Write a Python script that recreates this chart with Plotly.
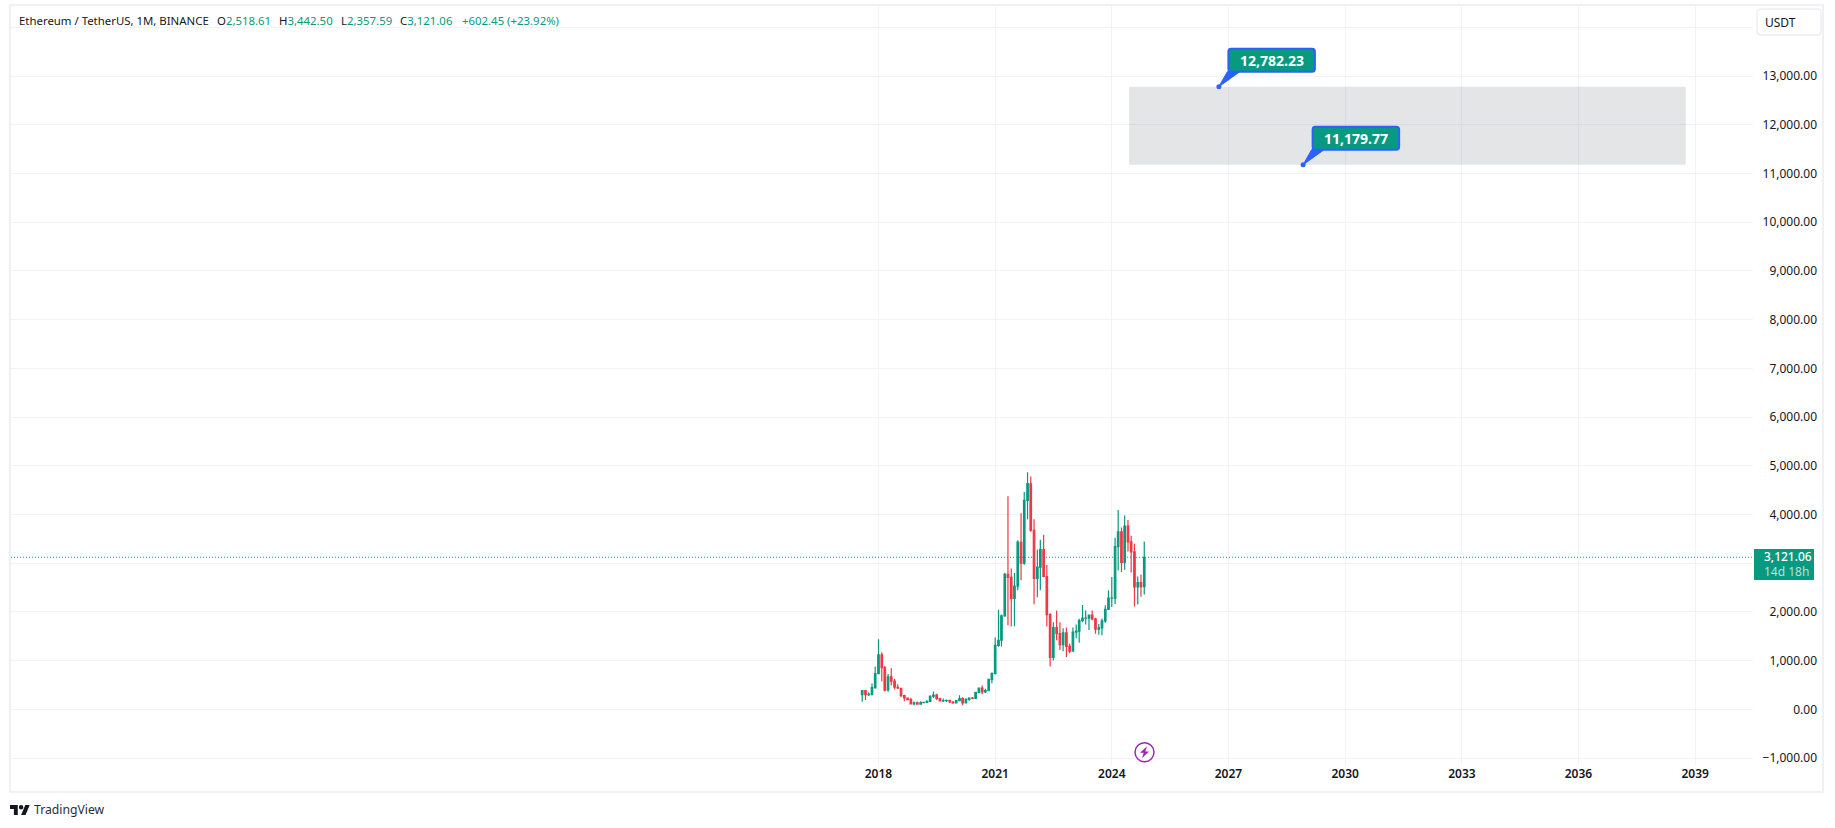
import plotly.graph_objects as go
import pandas as pd

months = [d.strftime("%Y-%m-%d") for d in pd.date_range("2017-08-01", "2024-11-01", freq="MS")]
opens = [301,383,303,305,445,733,1117,853,397,669,578,453,433,283,232,197,113,133,107,136,141,162,268,290,218,172,180,183,151,130,180,218,132,206,231,226,346,434,359,386,616,737,
1312,1418,1918,2772,2707,2275,2530,3430,3000,4288,4630,3676,2688,2919,3281,2726,1942,1067,1678,1554,1328,1572,1294,1196,1585,1605,1821,1870,1873,1933,1856,1645,1671,1815,2052,2282,2283,3340,3645,3014,3760,3436,3232,2513,2603,2518.61]
highs = [393,395,349,531,881,1436,1170,890,725,841,625,515,435,300,234,238,160,160,165,150,187,288,364,320,239,223,199,190,153,187,288,250,227,246,253,349,446,488,420,622,758,1475,
2042,1947,2800,4372,2891,2800,3471,4027,4460,4868,4778,3900,3283,3481,3582,2965,1972,1785,2030,1789,1663,1680,1352,1680,1743,1857,2142,2029,1930,2029,1880,1750,1865,2136,2445,2717,3522,4093,3730,3977,3887,3562,3400,2728,2770,3442.50]
lows = [155,191,271,282,422,730,575,368,360,489,406,430,250,167,190,101,81,100,101,130,130,150,230,190,160,150,150,130,116,125,180,86,125,176,215,222,335,308,333,373,533,714,
1285,1290,1900,1728,1700,1706,2442,2652,2970,3900,3643,2159,2300,2445,2711,1703,880,1000,1420,1220,1190,1074,1150,1190,1460,1368,1785,1740,1626,1826,1550,1531,1520,1778,2043,2100,2160,2850,2817,2865,3240,2810,2110,2150,2310,2357.59]
closes = [383,303,305,445,733,1117,855,394,669,577,453,433,283,232,197,113,133,107,136,141,162,268,290,218,172,180,183,151,130,180,218,133,206,231,226,346,434,360,386,616,737,1312,
1418,1918,2772,2706,2275,2531,3432,3001,4288,4631,3676,2688,2919,3281,2726,1942,1067,1678,1554,1328,1572,1294,1196,1585,1605,1821,1870,1873,1933,1856,1645,1671,1815,2052,2282,2283,3340,3645,3014,3760,3436,3232,2513,2603,2518,3121.06]

year_ticks = ["2018-01-01","2021-01-01","2024-01-01","2027-01-01","2030-01-01","2033-01-01","2036-01-01","2039-01-01"]
year_labels = ["2018","2021","2024","2027","2030","2033","2036","2039"]
price_ticks = [-1000,0,1000,2000,3000,4000,5000,6000,7000,8000,9000,10000,11000,12000,13000,14000]
price_labels = ["\u22121,000.00","0.00","1,000.00","2,000.00","","4,000.00","5,000.00","6,000.00","7,000.00","8,000.00",
                "9,000.00","10,000.00","11,000.00","12,000.00","13,000.00",""]

zone_top = 12782.23
zone_bottom = 11179.77
zone_start = "2024-06-12"
zone_end = "2038-10-04"
callout_dates = ["2026-10-03", "2028-12-02"]
callout_values = [zone_top, zone_bottom]
callout_texts = ["12,782.23", "11,179.77"]
last_price = 3121.06

legend_name = "Ethereum / TetherUS, 1M, BINANCE"
legend_keys = ["O", "H", "L", "C", ""]
legend_vals = ["2,518.61", "3,442.50", "2,357.59", "3,121.06", "+602.45 (+23.92%)"]
legend_x = [215, 277, 339, 398, 460]

W, H = 1835, 828
L, R, T, B = 11, 1817, 5, 765      # plot box
PANE_R = 1753
UP, DOWN = "#089981", "#F23645"
BLUE = "#2962FF"
FONT = "Noto Sans"
TXT = "#131722"

def px(v): return (v - L) / (R - L)
def py(v): return (B - v) / (B - T)

fig = go.Figure()
fig.add_trace(go.Candlestick(
    x=months, open=opens, high=highs, low=lows, close=closes,
    increasing=dict(line=dict(color=UP, width=1.2), fillcolor=UP),
    decreasing=dict(line=dict(color=DOWN, width=1.2), fillcolor=DOWN),
    whiskerwidth=0, hoverinfo="skip", showlegend=False))
fig.add_trace(go.Scatter(x=callout_dates, y=callout_values, mode="markers",
    marker=dict(color=BLUE, size=5), hoverinfo="skip", showlegend=False))

shapes = []
# outer frame
shapes.append(dict(type="rect", xref="paper", yref="paper", x0=px(10), x1=px(1823), y0=py(792), y1=py(5),
                   line=dict(color="#F0F0F5", width=2), layer="below"))
# zone
shapes.append(dict(type="rect", xref="x", yref="y", x0=zone_start, x1=zone_end, y0=zone_bottom, y1=zone_top,
                   fillcolor="rgba(120,123,134,0.2)", line=dict(width=0), layer="above"))
# last price line
shapes.append(dict(type="line", xref="x domain", yref="y", x0=0, x1=1, y0=last_price, y1=last_price,
                   line=dict(color=UP, width=1, dash="1px,2px"), layer="above"))
# callouts: wedge and rounded box
for d, v in zip(callout_dates, callout_values):
    shapes.append(dict(type="path", xref="x", yref="y", xsizemode="pixel", ysizemode="pixel",
                       xanchor=d, yanchor=v, path="M 0 0 L 8.5 15 L 21 15 Z",
                       fillcolor=BLUE, line=dict(color=BLUE, width=1), layer="above"))
    shapes.append(dict(type="path", xref="x", yref="y", xsizemode="pixel", ysizemode="pixel",
                       xanchor=d, yanchor=v,
                       path="M 12 15 L 93 15 Q 96 15 96 18 L 96 35 Q 96 38 93 38 L 12 38 Q 9.5 38 9.5 35 L 9.5 18 Q 9.5 15 12 15 Z",
                       fillcolor=UP, line=dict(color=BLUE, width=2), layer="above"))
# price tag
shapes.append(dict(type="rect", xref="paper", yref="paper", x0=px(1754), x1=px(1814), y0=py(580), y1=py(549),
                   fillcolor=UP, line=dict(width=0), layer="above"))
# USDT button
shapes.append(dict(type="path", xref="paper", yref="paper", xsizemode="pixel", ysizemode="pixel",
                   xanchor=px(1757), yanchor=py(35),
                   path="M 4 0 L 60 0 Q 64 0 64 4 L 64 22 Q 64 26 60 26 L 4 26 Q 0 26 0 22 L 0 4 Q 0 0 4 0 Z",
                   fillcolor="white", line=dict(color="#EDEEF2", width=1.5), layer="above"))
# lightning icon
shapes.append(dict(type="circle", xref="paper", yref="paper", xsizemode="pixel", ysizemode="pixel",
                   xanchor=px(1144.5), yanchor=py(752.3), x0=-9.5, x1=9.5, y0=-9.5, y1=9.5,
                   fillcolor="white", line=dict(color="#9C27B0", width=1.5), layer="above"))
shapes.append(dict(type="path", xref="paper", yref="paper", xsizemode="pixel", ysizemode="pixel",
                   xanchor=px(1144.5), yanchor=py(752.3),
                   path="M 2.5 6 L -4.5 -0.5 L -0.8 -0.5 L -2.5 -6 L 4.5 0.8 L 0.8 0.8 Z",
                   fillcolor="#9C27B0", line=dict(width=0), layer="above"))
# TradingView mark
s = 20 / 36
lx, ly = 10, 805
def lp(a, b): return f"{a*s:.2f} {-(b-4)*s:.2f}"
logo = (f"M {lp(14,22)} L {lp(7,22)} L {lp(7,11)} L {lp(0,11)} L {lp(0,4)} L {lp(14,4)} Z "
        f"M {lp(28,22)} L {lp(20,22)} L {lp(27.5,4)} L {lp(35.5,4)} Z "
        f"M {lp(16,8)} C {lp(16,2.7)} {lp(24,2.7)} {lp(24,8)} C {lp(24,13.3)} {lp(16,13.3)} {lp(16,8)} Z")
shapes.append(dict(type="path", xref="paper", yref="paper", xsizemode="pixel", ysizemode="pixel",
                   xanchor=px(lx), yanchor=py(ly), path=logo, fillcolor="#131722", line=dict(width=0), layer="above"))

ann = []
# header legend
HF = 11.4
ann.append(dict(xref="paper", yref="paper", x=px(16.5), y=py(20), xanchor="left", yanchor="middle", showarrow=False,
                text=legend_name, font=dict(family=FONT, size=HF, color=TXT)))
for k, v, x in zip(legend_keys, legend_vals, legend_x):
    ann.append(dict(xref="paper", yref="paper", x=px(x), y=py(20), xanchor="left", yanchor="middle", showarrow=False,
                    text=f"{k}<span style='color:{UP}'>{v}</span>", font=dict(family=FONT, size=HF, color=TXT)))
# callouts
for d, v, t in zip(callout_dates, callout_values, callout_texts):
    ann.append(dict(xref="x", yref="y", x=d, y=v, xanchor="center", yanchor="middle", xshift=52.8, yshift=26.5,
                    showarrow=False, text=f"<b>{t}</b>",
                    font=dict(family=FONT, size=14, color="white")))
# price tag text
ann.append(dict(xref="paper", yref="paper", x=px(1762), y=py(556.5), xanchor="left", yanchor="middle", showarrow=False,
                text="3,121.06", font=dict(family=FONT, size=12, color="white", weight=500)))
ann.append(dict(xref="paper", yref="paper", x=px(1762), y=py(571), xanchor="left", yanchor="middle", showarrow=False,
                text="14d 18h", font=dict(family=FONT, size=12, color="rgba(255,255,255,0.72)")))
ann.append(dict(xref="paper", yref="paper", x=px(1763), y=py(22), xanchor="left", yanchor="middle", showarrow=False,
                text="USDT", font=dict(family=FONT, size=12, color=TXT)))
ann.append(dict(xref="paper", yref="paper", x=px(32), y=py(810), xanchor="left", yanchor="middle", showarrow=False,
                text="TradingView", font=dict(family=FONT, size=12.2, color="#2A2E39")))

fig.update_layout(
    width=W, height=H, margin=dict(l=L, r=W - R, t=T, b=H - B, pad=0),
    paper_bgcolor="white", plot_bgcolor="white", showlegend=False, hovermode=False, boxgap=0.28,
    shapes=shapes, annotations=ann,
    xaxis=dict(type="date", domain=[0, (PANE_R - L) / (R - L)], range=["1995-09-12", "2040-06-27"],
               tickmode="array", tickvals=year_ticks, ticktext=year_labels, showgrid=True, gridcolor="#F2F3F6", gridwidth=1,
               zeroline=False, showline=False, ticks="", rangeslider=dict(visible=False),
               tickfont=dict(family=FONT, size=12, color=TXT, weight=600)),
    yaxis=dict(range=[-1143, 14458], anchor="free", position=1, side="left", tickmode="array",
               tickvals=price_ticks, ticktext=price_labels, showgrid=True, gridcolor="#F2F3F6", gridwidth=1,
               zeroline=False, showline=False, ticks="",
               tickfont=dict(family=FONT, size=12, color=TXT)),
)
fig.write_html("out.html", config=dict(displayModeBar=False),
               post_script="document.body.style.margin='0';document.body.style.overflow='hidden';")
